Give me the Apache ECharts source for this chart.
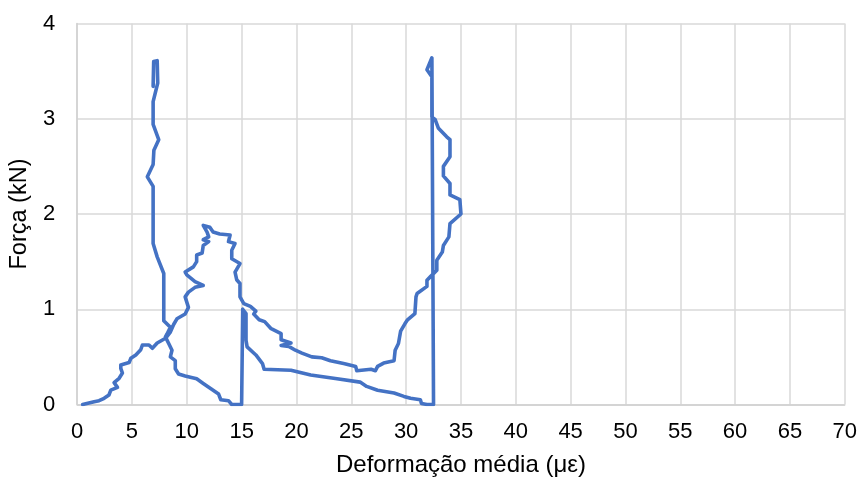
<!DOCTYPE html>
<html>
<head>
<meta charset="utf-8">
<script src="https://cdn.jsdelivr.net/npm/echarts@6/dist/echarts.min.js"></script>
<style>
  html, body { margin: 0; padding: 0; background: #fff; }
  #chart { width: 860px; height: 484px; }
</style>
</head>
<body>
<div id="chart"></div>
<script>
// Ensaio: deformação média (με) × força (kN), em três trechos contínuos
const trechoCarga = [
  [0.5,0],[1.55,0.03],[2.0,0.04],[2.46,0.065],[2.9,0.10],[3.07,0.15],[3.68,0.18],[3.37,0.23],
  [3.83,0.275],[4.13,0.33],[3.98,0.38],[3.98,0.415],[4.74,0.44],[4.9,0.485],[5.35,0.52],[5.8,0.575],
  [5.95,0.625],[6.55,0.625],[6.86,0.59],[7.3,0.645],[7.9,0.685],[8.2,0.715],[8.5,0.76],[8.8,0.84],
  [9.1,0.9],[9.85,0.95],[10.15,1.02],[9.85,1.13],[10.15,1.18],[10.75,1.23],[11.5,1.25],[10.75,1.29],
  [10.0,1.36],[9.85,1.39],[10.6,1.445],[10.9,1.5],[10.9,1.57],[11.4,1.59],[11.5,1.67],[12.0,1.71],
  [11.5,1.73],[12.0,1.76],[11.85,1.81],[11.5,1.88],[12.1,1.86],[12.4,1.81],[13.0,1.79],[13.95,1.78],
  [13.8,1.71],[14.4,1.69],[14.1,1.62],[14.1,1.53],[14.85,1.48],[14.4,1.39],[14.55,1.31],[14.85,1.27],
  [14.85,1.13],[15.2,1.06],[15.8,1.03],[16.3,0.98],[16.1,0.95],[16.6,0.89],[17.1,0.87],[17.65,0.80],
  [18.6,0.745],[18.6,0.68],[19.5,0.645],[18.6,0.62],[19.3,0.61],[19.9,0.57],[20.5,0.54],[21.4,0.50],
  [22.3,0.49],[23.1,0.46],[24.3,0.43],[25.4,0.40],[25.5,0.355],[26.8,0.37],[27.2,0.355],[27.4,0.40],
  [27.95,0.435],[28.9,0.46],[29.0,0.57],[29.3,0.64],[29.5,0.77],[29.9,0.85],[30.1,0.885],[30.8,0.955],
  [30.9,1.13],[31.0,1.165],[31.9,1.24],[31.9,1.305],[32.2,1.34],[32.8,1.41],[32.8,1.515],[33.3,1.60],
  [33.4,1.67],[33.9,1.76],[34.0,1.90],[35.0,2.0],[34.9,2.15],[34.0,2.2],[34.0,2.32],[33.4,2.40],
  [33.4,2.50],[34.0,2.60],[34.0,2.78],[33.7,2.81],[32.95,2.90],[32.65,2.99],[32.35,3.02],[32.35,3.44],
  [31.9,3.515],[32.35,3.64],[32.5,0]
];
const trechoRetorno = [
  [31.9,0],[31.4,0.01],[31.3,0.05],[30.7,0.06],[30.4,0.065],[29.8,0.085],[28.9,0.12],[27.4,0.15],
  [26.4,0.19],[25.8,0.235],[23.7,0.27],[21.3,0.31],[19.5,0.36],[17.05,0.37],[16.9,0.43],[16.3,0.52],
  [15.5,0.605],[15.4,0.675],[15.4,0.955],[15.1,1.0],[15.0,0]
];
const trechoFinal = [
  [14.1,0],[13.8,0.04],[13.1,0.05],[12.9,0.11],[12.0,0.18],[11.5,0.22],[10.9,0.27],[9.85,0.30],
  [9.25,0.32],[8.95,0.375],[8.95,0.46],[8.5,0.50],[8.65,0.57],[8.35,0.64],[8.05,0.71],[8.2,0.74],
  [8.5,0.81],[7.9,0.88],[7.9,1.375],[7.3,1.55],[6.93,1.69],[6.93,2.29],[6.4,2.39],[6.93,2.52],
  [7.0,2.67],[7.44,2.78],[6.93,2.94],[6.93,3.18],[7.35,3.375],[7.3,3.61],[6.98,3.60],[6.93,3.34]
];

const curva = trechoCarga.concat(trechoRetorno, trechoFinal);

const fonte = 'Liberation Sans, Arial, sans-serif';
const chart = echarts.init(document.getElementById('chart'), null, { renderer: 'canvas' });
chart.setOption({
  animation: false,
  backgroundColor: '#ffffff',
  grid: { left: 76.5, right: 13.5, top: 23.5, bottom: 79.5, containLabel: false },
  xAxis: {
    type: 'value', min: 0, max: 70, interval: 5,
    name: 'Deformação média (με)', nameLocation: 'middle', nameGap: 49,
    nameTextStyle: { fontFamily: fonte, fontSize: 24, color: '#000' },
    axisLine: { show: true, lineStyle: { color: '#d0d0d0', width: 1.5 } },
    axisTick: { show: false },
    axisLabel: { fontFamily: fonte, fontSize: 22, color: '#000', margin: 16 },
    splitLine: { show: true, lineStyle: { color: '#d9d9d9', width: 1.5 } }
  },
  yAxis: {
    type: 'value', min: 0, max: 4, interval: 1,
    name: 'Força (kN)', nameLocation: 'middle', nameGap: 45, nameRotate: 90,
    nameTextStyle: { fontFamily: fonte, fontSize: 23.5, color: '#000' },
    axisLine: { show: true, lineStyle: { color: '#d0d0d0', width: 1.5 } },
    axisTick: { show: false },
    axisLabel: { fontFamily: fonte, fontSize: 22, color: '#000', margin: 22 },
    splitLine: { show: true, lineStyle: { color: '#d9d9d9', width: 1.5 } }
  },
  series: [{
    type: 'line',
    data: curva,
    showSymbol: false,
    smooth: false,
    lineStyle: { color: '#4472C4', width: 3.6, join: 'round', cap: 'round' }
  }]
});
</script>
</body>
</html>
